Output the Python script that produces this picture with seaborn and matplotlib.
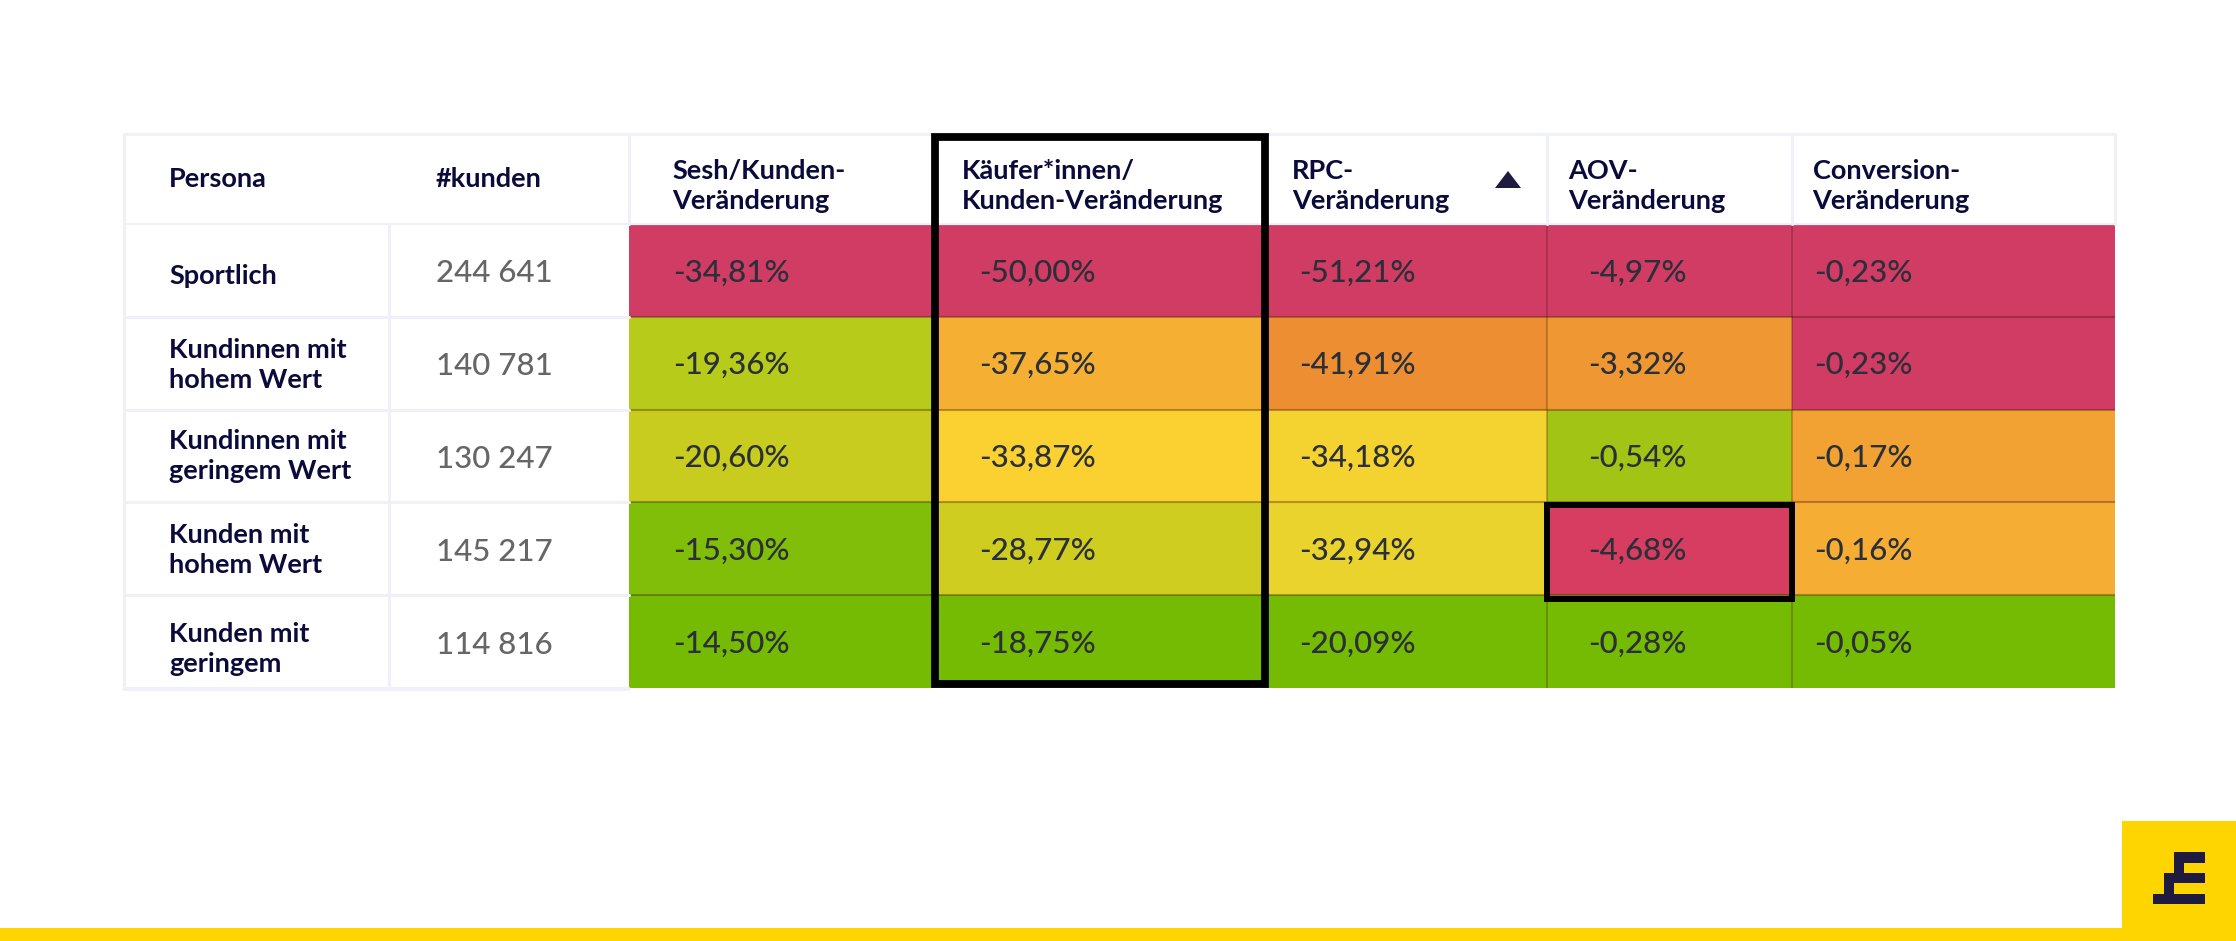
import pandas as pd
import numpy as np
import matplotlib
matplotlib.use('Agg')
import matplotlib.pyplot as plt
from matplotlib.colors import LinearSegmentedColormap
from matplotlib.patches import Rectangle, Polygon
import seaborn as sns

personas = ["Sportlich", "Kundinnen mit\nhohem Wert", "Kundinnen mit\ngeringem Wert",
            "Kunden mit\nhohem Wert", "Kunden mit\ngeringem"]
kunden = [244641, 140781, 130247, 145217, 114816]
sesh = [-34.81, -19.36, -20.60, -15.30, -14.50]
kaeufer = [-50.00, -37.65, -33.87, -28.77, -18.75]
rpc = [-51.21, -41.91, -34.18, -32.94, -20.09]
aov = [-4.97, -3.32, -0.54, -4.68, -0.28]
conversion = [-0.23, -0.23, -0.17, -0.16, -0.05]
col_names = ["Sesh/Kunden-\nVeränderung", "Käufer*innen/\nKunden-Veränderung", "RPC-\nVeränderung",
             "AOV-\nVeränderung", "Conversion-\nVeränderung"]

W, H = 2236, 941
NAVY = "#0B0B3B"
GRID = "#F0F0F8"
YELLOW = "#FFD500"
SEP = (0.25, 0.1, 0, 0.35)

# column edges and text starts in pixels
col_x = [629, 935, 1265, 1547, 1792, 2115]
head_x = [672.5, 962, 1292, 1568.5, 1812.5]
val_x = [673, 979.5, 1299, 1588, 1814]
persona_dy = [6, 2, 0, 1, 7]
top, head_bot, bot = 134, 224, 688

df = pd.DataFrame(dict(zip(col_names, [sesh, kaeufer, rpc, aov, conversion])))
row_h = (bot - head_bot) / len(df)
row_y = [head_bot + row_h * (i + 0.5) for i in range(len(df))]

# conditional format scale, worst value in column to best value in column
cmap = LinearSegmentedColormap.from_list("persona", [
    (0.00, "#D13C65"), (0.06, "#D63D60"), (0.30, "#EE8F32"), (0.333, "#F2A233"), (0.352, "#EF9632"),
    (0.39, "#F5AE33"), (0.52, "#FAD231"), (0.58, "#EED42E"), (0.68, "#CDCD20"), (0.76, "#B7CB1A"),
    (0.945, "#A2C515"), (0.96, "#80BE0A"), (1.00, "#75BB04")])

sns.set_theme(style="white")
plt.rcParams['font.family'] = ['Lato', 'DejaVu Sans']

fig = plt.figure(figsize=(W / 100, H / 100), dpi=100, facecolor="white")

for i, col in enumerate(col_names):
    ax = fig.add_axes([col_x[i] / W, 1 - bot / H, (col_x[i + 1] - col_x[i]) / W, (bot - head_bot) / H])
    sns.heatmap(df[[col]], ax=ax, cmap=cmap, vmin=df[col].min(), vmax=df[col].max(), cbar=False,
                xticklabels=False, yticklabels=False)
    ax.set_xlabel("")
    ax.set_ylabel("")

# overlay in pixel coordinates for the table parts around the heatmap
ov = fig.add_axes([0, 0, 1, 1], facecolor="none")
ov.set_xlim(0, W)
ov.set_ylim(H, 0)
ov.axis("off")

# darker separators inside the heatmap
for i in range(1, len(df)):
    y = head_bot + row_h * i
    ov.plot([629, 2115], [y, y], color=SEP, lw=1.5, solid_capstyle="butt")
    ov.plot([124, 629], [y, y], color=GRID, lw=2.2)
for x in [1547, 1792]:
    ov.plot([x, x], [head_bot, bot], color=SEP, lw=1.1, solid_capstyle="butt")

# light table lines
ov.plot([124, 124], [top, bot], color=GRID, lw=2.2)
ov.plot([124, 2115], [top, top], color=GRID, lw=2.2)
ov.plot([124, 2115], [head_bot, head_bot], color=GRID, lw=1.6)
ov.plot([124, 629], [bot + 1, bot + 1], color=GRID, lw=2.8)
ov.plot([2115, 2115], [top, head_bot], color=GRID, lw=2.2)
ov.plot([389, 389], [head_bot, bot], color=GRID, lw=2.2)
for x in col_x[0:1] + col_x[3:5]:
    ov.plot([x, x], [top, head_bot], color=GRID, lw=2.2)

# header
head_font = dict(color=NAVY, fontsize=19.5, fontweight="bold", va="center", linespacing=1.3)
ov.text(169, 179, "Persona", **head_font)
ov.text(436, 179, "#kunden", **head_font)
for x, name in zip(head_x, col_names):
    ov.text(x, 186, name, **head_font)
ov.add_patch(Polygon([(1495, 188), (1521, 188), (1508, 171)], closed=True, color="#1E1A40", lw=0))

# rows
for i, y in enumerate(row_y):
    ov.text(169, y + persona_dy[i], personas[i], color=NAVY, fontsize=19.5, fontweight="bold",
            va="center", linespacing=1.3)
    ov.text(436, y + 3, f"{kunden[i]:,}".replace(",", " "), color="#666666", fontsize=22.5,
            fontweight="medium", va="center")
    for x, col in zip(val_x, col_names):
        ov.text(x, y + 2, f"{df[col].iloc[i]:.2f}%".replace(".", ","), color="#2B2F38", fontsize=22.5,
                fontweight="medium", va="center")

# black highlight frames
ov.add_patch(Rectangle((935, 136.5), 330, 547.5, fill=False, ec="black", lw=5.6, joinstyle="miter", zorder=5))
ov.add_patch(Rectangle((1547, 505), 245, 94, fill=False, ec="black", lw=4.3, joinstyle="miter", zorder=5))

# footer bar and logo
ov.add_patch(Rectangle((0, 928), W, 13, color=YELLOW, lw=0))
ov.add_patch(Rectangle((2122, 821), W - 2122, 120, color=YELLOW, lw=0))
logo = np.array([(372, 217), (465, 217), (465, 248), (403, 248), (403, 279), (465, 279), (465, 310),
                 (372, 310), (372, 341), (465, 341), (465, 372), (310, 372), (310, 341), (341, 341),
                 (341, 279), (372, 279)]) / 3 + np.array([2050, 780])
ov.add_patch(Polygon(logo, closed=True, color="#1E1A40", lw=0))

fig.savefig("out.png", dpi=100, facecolor="white")
